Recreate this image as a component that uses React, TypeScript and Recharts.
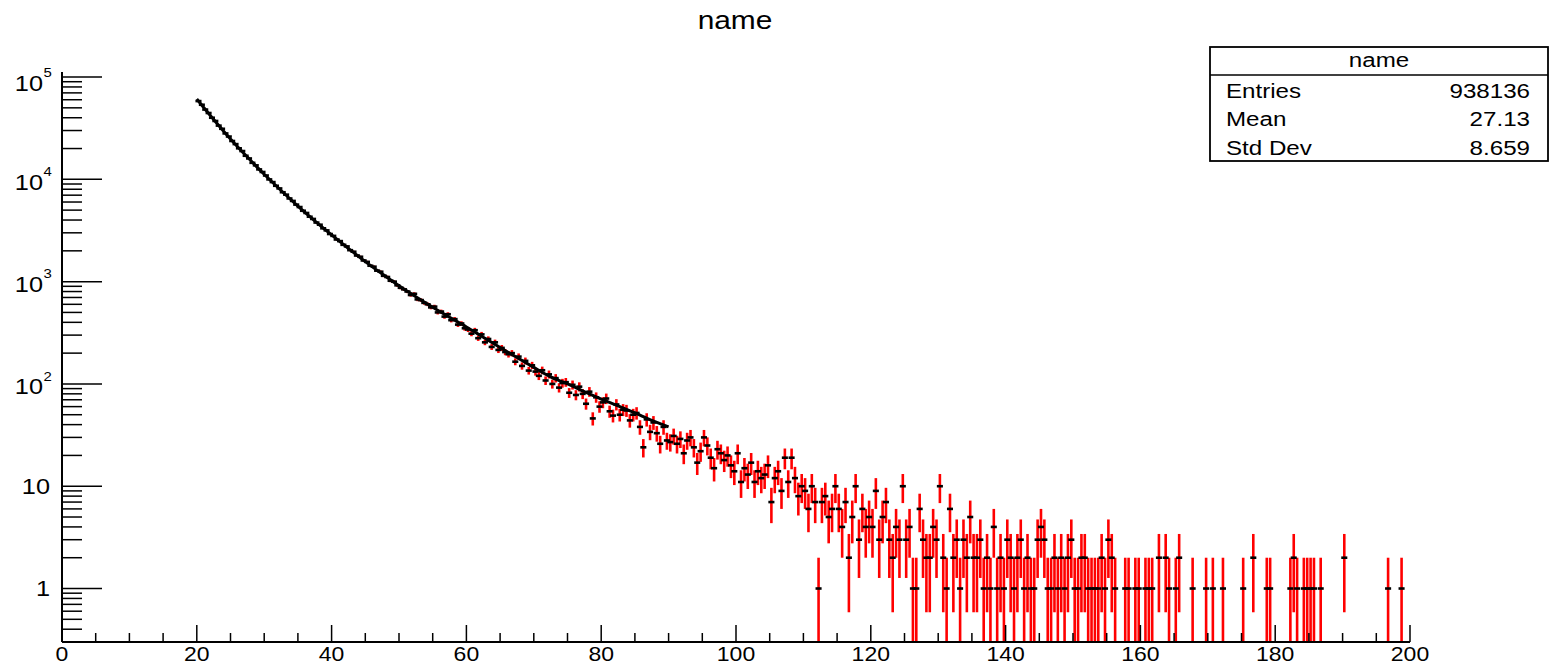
import { ComposedChart, Scatter, Line, XAxis, YAxis, ErrorBar } from "recharts";

const FONT = '"Liberation Sans", Arial, Helvetica, sans-serif';
const STRETCH = 1.15; // the source image is stretched horizontally

// histogram binning (0.5 wide bins from x = 20)
const BIN_START = 20;
const BIN_WIDTH = 0.5;
const Y_MIN = 0.3;
const Y_MAX = 112000;
const DASH_HALF = 0.45;

// bin contents, one row per 10 units of x
const counts20 = [58200, 53600, 48100, 44500, 40000, 37200, 33500, 31200, 28100, 26200, 23700, 22100, 20100, 18900, 17000, 16000, 14500, 13700, 12500, 11800];
const counts30 = [10900, 9980, 9400, 8650, 8150, 7480, 7080, 6500, 6150, 5660, 5360, 4930, 4690, 4310, 4100, 3780, 3600, 3320, 3170, 2920];
const counts40 = [2800, 2580, 2490, 2290, 2210, 2030, 1960, 1800, 1750, 1610, 1560, 1430, 1400, 1280, 1250, 1140, 1110, 1020, 1000, 920];
const counts50 = [870, 840, 800, 740, 760, 670, 660, 620, 600, 560, 570, 500, 510, 455, 480, 420, 430, 380, 390, 350];
const counts60 = [340, 310, 335, 280, 305, 255, 275, 230, 255, 215, 225, 205, 195, 200, 165, 185, 150, 168, 135, 152];
const counts70 = [132, 120, 136, 108, 124, 100, 114, 92, 102, 104, 82, 98, 78, 94, 80, 64, 84, 46, 74, 60];
const counts80 = [66, 72, 54, 49, 63, 50, 56, 55, 44, 50, 52, 38, 24, 45, 34, 42, 33, 26, 38, 28];
const counts90 = [27, 31, 26, 29, 21, 28, 30, 24, 17, 22, 30, 25, 19, 15, 23, 21, 18, 20, 16, 14];
const counts100 = [21, 11, 15, 13, 17, 11, 14, 12, 13, 16, 7, 12, 14, 9, 19, 11, 19, 12, 8, 10];
const counts110 = [9, 6, 10, 7, 1, 7, 8, 5, 6, 10, 6, 4, 7, 2, 5, 10, 3, 6, 4, 5];
const counts120 = [4, 9, 3, 5, 7, 3, 2, 4, 3, 10, 3, 4, 1, 1, 6, 3, 2, 2, 4, 3];
const counts130 = [10, 2, 1, 6, 2, 3, 1, 3, 2, 5, 2, 2, 3, 1, 2, 1, 4, 1, 2, 1];
const counts140 = [3, 2, 1, 2, 3, 1, 2, 1, 1, 3, 4, 3, 1, 1, 2, 1, 2, 1, 2, 3];
const counts150 = [1, 1, 2, 2, 1, 1, 1, 1, 2, 1, 3, 2, 1, 0, 0, 1, 1, 0, 1, 1];
const counts160 = [0, 1, 1, 1, 0, 2, 0, 2, 1, 0, 1, 2, 0, 0, 0, 1, 0, 0, 0, 1];
const counts170 = [0, 1, 0, 0, 1, 0, 0, 0, 0, 0, 1, 0, 0, 2, 0, 0, 0, 1, 1, 0];
const counts180 = [0, 0, 0, 0, 1, 2, 1, 0, 1, 1, 1, 1, 0, 1, 0, 0, 0, 0, 0, 0];
const counts190 = [2, 0, 0, 0, 0, 0, 0, 0, 0, 0, 0, 0, 0, 1, 0, 0, 0, 1, 0, 0];

const binCounts = [
  ...counts20, ...counts30, ...counts40, ...counts50, ...counts60, ...counts70,
  ...counts80, ...counts90, ...counts100, ...counts110, ...counts120, ...counts130,
  ...counts140, ...counts150, ...counts160, ...counts170, ...counts180, ...counts190,
];

// fitted curve (black line)
const fitX = [20, 22.5, 25, 27.5, 30, 32.5, 35, 37.5, 40, 42.5, 45, 47.5, 50, 52.5, 55, 57.5, 60, 62.5, 65, 67.5, 70, 72.5, 75, 77.5, 80, 82.5, 85, 87.5, 90];
const fitY = [61000, 38500, 24800, 16500, 11200, 7780, 5480, 3930, 2860, 2110, 1570, 1190, 910, 710, 561, 448, 360, 286, 227, 181, 145, 117, 100, 84, 71, 61, 52, 44, 38];

const xTicks = [0, 5, 10, 15, 20, 25, 30, 35, 40, 45, 50, 55, 60, 65, 70, 75, 80, 85, 90, 95, 100, 105, 110, 115, 120, 125, 130, 135, 140, 145, 150, 155, 160, 165, 170, 175, 180, 185, 190, 195, 200];
const xLabelled = [0, 20, 40, 60, 80, 100, 120, 140, 160, 180, 200];
const yMajor = [1, 10, 100, 1000, 10000, 100000];
const yMinor = [
  0.3, 0.4, 0.5, 0.6, 0.7, 0.8, 0.9,
  2, 3, 4, 5, 6, 7, 8, 9,
  20, 30, 40, 50, 60, 70, 80, 90,
  200, 300, 400, 500, 600, 700, 800, 900,
  2000, 3000, 4000, 5000, 6000, 7000, 8000, 9000,
  20000, 30000, 40000, 50000, 60000, 70000, 80000, 90000,
];

const title = "name";
const statsRows = [
  ["Entries", "938136"],
  ["Mean", "27.13"],
  ["Std Dev", "8.659"],
];

const points = binCounts.flatMap((n, i) => {
  if (n <= 0) return [];
  const err = Math.sqrt(n);
  return [{
    x: BIN_START + BIN_WIDTH * (i + 0.5),
    y: n,
    ey: [n - Math.max(n - err, Y_MIN), err],
    ex: DASH_HALF,
  }];
});

const fit = fitX.map((x, i) => ({ x, y: fitY[i] }));

const XTick = (props: any) => {
  const { x, y, payload } = props;
  const v = payload.value;
  const major = xLabelled.includes(v);
  return (
    <g>
      <line x1={x} x2={x} y1={y} y2={y - (major ? 17 : 9)} stroke="#000" strokeWidth={1.5} />
      {major && (
        <g transform={`translate(${x},${y + 19}) scale(${STRETCH},1)`}>
          <text textAnchor="middle" fontSize={20} fontFamily={FONT} fill="#000">{v}</text>
        </g>
      )}
    </g>
  );
};

const YTick = (props: any) => {
  const { x, y, payload } = props;
  const v = payload.value;
  const major = yMajor.includes(v);
  const exp = Math.round(Math.log10(v));
  let label = null;
  if (major && exp >= 2) {
    const cy = y + (exp === 5 ? 6.5 : 3);
    label = (
      <g>
        <g transform={`translate(${x - 19},${cy}) scale(${STRETCH},1)`}>
          <text textAnchor="end" dominantBaseline="central" fontSize={22} fontFamily={FONT} fill="#000">10</text>
        </g>
        <g transform={`translate(${x - 18.5},${cy - 11}) scale(${STRETCH},1)`}>
          <text textAnchor="start" dominantBaseline="central" fontSize={13} fontFamily={FONT} fill="#000">{exp}</text>
        </g>
      </g>
    );
  } else if (major) {
    label = (
      <g transform={`translate(${x - 12},${y}) scale(${STRETCH},1)`}>
        <text textAnchor="end" dominantBaseline="central" fontSize={22} fontFamily={FONT} fill="#000">{v}</text>
      </g>
    );
  }
  return (
    <g>
      <line x1={x} x2={x + (major ? 40 : 20)} y1={y} y2={y} stroke="#000" strokeWidth={1.5} />
      {label}
    </g>
  );
};

const App = () => {
  return (
    <div style={{ position: "absolute", left: 0, top: 0, width: 1559, height: 667, background: "#fff" }}>
      <ComposedChart width={1559} height={667} margin={{ top: 72, right: 149, bottom: 0, left: 0 }}>
        <XAxis
          type="number"
          dataKey="x"
          domain={[0, 200]}
          allowDataOverflow
          ticks={xTicks}
          interval={0}
          height={25}
          tickSize={0}
          tickMargin={0}
          tickLine={false}
          tick={XTick}
          axisLine={{ stroke: "#000", strokeWidth: 2 }}
        />
        <XAxis
          xAxisId="top"
          orientation="top"
          type="number"
          domain={[0, 200]}
          height={0}
          tick={false}
          tickLine={false}
          axisLine={{ stroke: "#000", strokeWidth: 1.5 }}
        />
        <YAxis
          type="number"
          dataKey="y"
          scale="log"
          domain={[Y_MIN, Y_MAX]}
          allowDataOverflow
          ticks={[...yMinor, ...yMajor]}
          interval={0}
          width={62}
          tickSize={0}
          tickMargin={0}
          tickLine={false}
          tick={YTick}
          axisLine={{ stroke: "#000", strokeWidth: 2 }}
        />
        <YAxis
          yAxisId="right"
          orientation="right"
          type="number"
          domain={[0, 1]}
          width={0}
          tick={false}
          tickLine={false}
          axisLine={{ stroke: "#000", strokeWidth: 1.5 }}
        />
        <Scatter data={points} dataKey="y" shape={() => <g />} isAnimationActive={false}>
          <ErrorBar dataKey="ey" direction="y" width={0} stroke="#ff0000" strokeWidth={2.6} />
          <ErrorBar dataKey="ex" direction="x" width={0} stroke="#000" strokeWidth={2.6} />
        </Scatter>
        <Line data={fit} dataKey="y" type="monotone" stroke="#000" strokeWidth={3} dot={false} activeDot={false} isAnimationActive={false} />
      </ComposedChart>
      <svg width={1559} height={667} style={{ position: "absolute", left: 0, top: 0, pointerEvents: "none" }}>
        <g transform={`translate(735,29) scale(${STRETCH},1)`}>
          <text textAnchor="middle" fontSize={26} fontFamily={FONT} fill="#000">{title}</text>
        </g>
        <rect x={1210} y={47} width={338} height={114} fill="#fff" stroke="#000" strokeWidth={1.8} />
        <line x1={1210} x2={1548} y1={75} y2={75} stroke="#000" strokeWidth={1.5} />
        <g transform={`translate(1379,67) scale(${STRETCH},1)`}>
          <text textAnchor="middle" fontSize={21} fontFamily={FONT} fill="#000">{title}</text>
        </g>
        {statsRows.map(([label, value], i) => (
          <g key={label}>
            <g transform={`translate(1226,${97.5 + i * 28.8}) scale(${STRETCH},1)`}>
              <text textAnchor="start" fontSize={21} fontFamily={FONT} fill="#000">{label}</text>
            </g>
            <g transform={`translate(1530,${97.5 + i * 28.8}) scale(${STRETCH},1)`}>
              <text textAnchor="end" fontSize={21} fontFamily={FONT} fill="#000">{value}</text>
            </g>
          </g>
        ))}
      </svg>
    </div>
  );
};

export default App;
